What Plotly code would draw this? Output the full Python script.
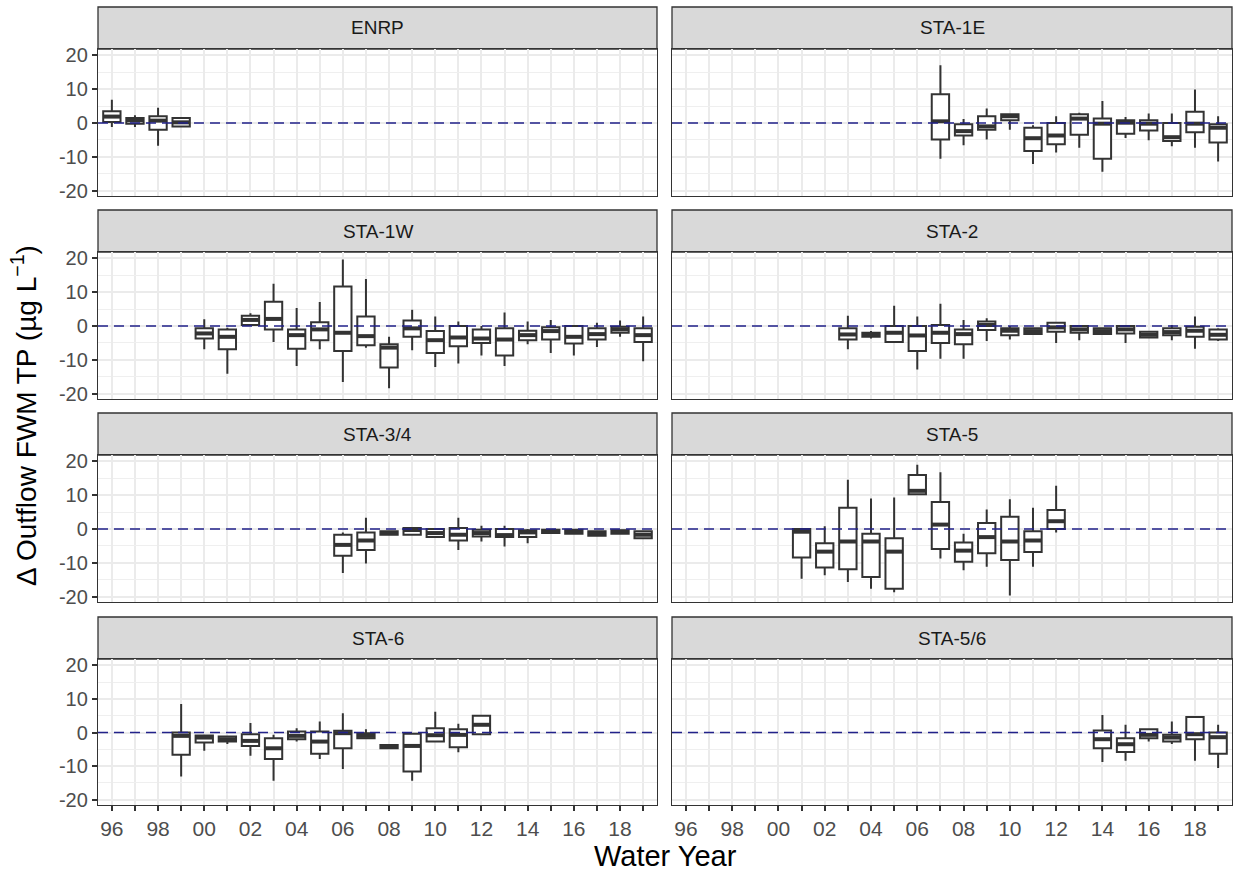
import plotly.graph_objects as go

# ---------------- data ----------------
year_labels = ["96","97","98","99","00","01","02","03","04","05","06","07",
               "08","09","10","11","12","13","14","15","16","17","18","19"]

stations = ["ENRP", "STA-1E", "STA-1W", "STA-2", "STA-3/4", "STA-5", "STA-6", "STA-5/6"]

enrp_years = ["96","97","98","99"]
enrp_low = [-1.2, -1.2, -6.7, -1.3]
enrp_q1 = [0.3, -0.2, -2.0, -1.0]
enrp_med = [1.9, 0.8, 0.7, 0.2]
enrp_q3 = [3.5, 1.5, 2.0, 1.5]
enrp_up = [6.9, 2.3, 4.5, 1.8]

sta1e_years = ["07","08","09","10","11","12","13","14","15","16","17","18","19"]
sta1e_low = [-10.6, -6.6, -4.9, -2.0, -12.1, -8.7, -7.3, -14.4, -4.4, -5.1, -6.9, -7.3, -11.4]
sta1e_q1 = [-4.9, -3.7, -2.0, 0.8, -8.3, -6.3, -3.5, -10.6, -3.2, -2.2, -5.3, -2.7, -5.8]
sta1e_med = [0.5, -2.4, -1.0, 2.0, -4.5, -3.7, 1.3, -0.2, 0.1, -0.2, -4.2, -0.2, -1.4]
sta1e_q3 = [8.5, -0.4, 2.0, 2.6, -1.4, 0.0, 2.6, 1.3, 0.8, 0.8, 0.0, 3.3, -0.4]
sta1e_up = [17.1, 1.2, 4.3, 2.6, -0.7, 2.0, 3.0, 6.5, 1.8, 2.8, 2.8, 9.9, 2.0]

sta1w_years = ["00","01","02","03","04","05","06","07","08","09",
               "10","11","12","13","14","15","16","17","18","19"]
sta1w_low = [-6.9, -14.1, 0.3, -4.7, -11.8, -6.9, -16.6, -6.4, -18.4, -7.2,
             -12.1, -11.1, -8.7, -11.8, -5.4, -8.0, -8.7, -6.2, -3.2, -10.4]
sta1w_q1 = [-3.7, -6.9, 0.3, -1.0, -6.7, -4.2, -7.4, -5.7, -12.3, -3.2,
            -8.0, -6.0, -5.0, -8.7, -4.2, -4.0, -5.2, -4.0, -2.0, -4.7]
sta1w_med = [-2.2, -3.2, 1.8, 2.1, -2.7, -1.0, -2.0, -3.0, -6.4, -0.7,
             -4.2, -3.4, -3.7, -4.0, -2.7, -1.5, -3.2, -2.4, -1.0, -2.7]
sta1w_q3 = [-0.7, -1.0, 3.0, 7.2, -1.0, 1.1, 11.7, 2.8, -5.4, 1.6,
            -1.5, 0.0, -1.0, -0.7, -1.4, -0.4, 0.0, -0.7, -0.2, -0.7]
sta1w_up = [2.0, -0.5, 3.8, 12.5, 5.3, 7.1, 19.7, 13.9, -3.2, 4.8,
            2.8, 1.3, 0.0, 4.0, 1.3, 1.8, 0.0, 1.0, 1.6, 2.8]

sta2_years = ["03","04","05","06","07","08","09","10","11","12","13","14","15","16","17","18","19"]
sta2_low = [-6.9, -3.7, -4.7, -12.9, -9.7, -9.7, -4.4, -4.0, -2.4, -5.0, -4.2, -2.4, -5.0, -3.4, -4.2, -6.7, -4.4]
sta2_q1 = [-4.0, -3.2, -4.7, -7.4, -5.0, -5.4, -1.2, -2.7, -2.4, -1.7, -2.0, -2.4, -2.2, -3.4, -2.7, -3.2, -4.0]
sta2_med = [-2.5, -2.6, -2.0, -2.8, -2.0, -2.4, 0.3, -1.4, -1.5, -0.4, -1.0, -1.5, -1.0, -2.6, -1.8, -1.4, -2.6]
sta2_q3 = [-0.7, -2.0, 0.0, 0.0, 0.3, -1.0, 1.3, -0.7, -0.7, 1.0, 0.0, -0.7, 0.0, -1.7, -0.7, -0.2, -1.0]
sta2_up = [3.0, -1.5, 6.0, 2.8, 6.6, 1.8, 2.3, 0.0, -0.7, 1.0, 0.3, -0.7, 0.3, -1.7, 0.3, 2.8, -0.7]

sta34_years = ["06","07","08","09","10","11","12","13","14","15","16","17","18","19"]
sta34_low = [-13.0, -10.2, -1.7, -1.7, -2.4, -6.2, -3.7, -5.2, -4.2, -1.4, -1.4, -2.0, -1.4, -2.7]
sta34_q1 = [-7.9, -6.2, -1.7, -1.7, -2.4, -3.4, -2.2, -2.4, -2.4, -1.2, -1.4, -2.0, -1.4, -2.7]
sta34_med = [-4.7, -3.4, -1.2, -0.3, -1.2, -1.7, -1.2, -1.8, -1.0, -0.7, -0.8, -1.4, -0.8, -1.7]
sta34_q3 = [-1.7, -1.0, -0.7, 0.3, 0.0, 0.3, -0.2, 0.0, -0.4, -0.2, -0.2, -0.7, -0.4, -0.7]
sta34_up = [-1.0, 3.3, -0.7, 0.6, 0.3, 3.3, 1.0, 1.0, 0.0, 0.0, -0.2, -0.7, -0.2, -0.7]

sta5_years = ["01","02","03","04","05","06","07","08","09","10","11","12"]
sta5_low = [-14.7, -13.7, -15.7, -17.7, -18.7, 10.3, -8.7, -12.2, -11.2, -19.7, -11.2, -1.0]
sta5_q1 = [-8.4, -11.4, -11.9, -14.2, -17.7, 10.3, -5.9, -9.7, -7.2, -9.2, -6.8, 0.0]
sta5_med = [-0.8, -6.7, -3.7, -3.7, -6.7, 11.3, 1.3, -6.4, -2.4, -3.7, -3.4, 2.3]
sta5_q3 = [0.0, -4.2, 6.3, -1.4, -2.7, 16.0, 8.0, -4.0, 1.8, 3.6, -0.7, 5.6]
sta5_up = [0.0, 0.8, 14.6, 9.0, 9.3, 19.0, 16.8, -1.4, 5.8, 8.8, 6.3, 12.8]

sta6_years = ["99","00","01","02","03","04","05","06","07","08","09","10","11","12"]
sta6_low = [-13.1, -5.4, -3.4, -6.9, -14.4, -2.7, -7.9, -10.9, -1.7, -4.7, -14.4, -2.7, -5.9, -0.7]
sta6_q1 = [-6.6, -3.0, -2.7, -4.0, -7.9, -2.0, -6.3, -4.7, -1.7, -4.7, -11.6, -2.7, -4.4, -0.5]
sta6_med = [-1.0, -1.5, -2.0, -2.5, -4.7, -1.0, -2.7, -0.2, -1.0, -4.2, -4.0, -0.8, -0.7, 2.3]
sta6_q3 = [0.0, -0.9, -1.2, -0.5, -1.7, 0.3, 0.3, 0.5, -0.2, -3.7, -0.4, 1.3, 1.0, 5.0]
sta6_up = [8.5, -0.7, -1.0, 2.8, -0.7, 1.3, 3.3, 5.7, 1.0, -3.7, -0.2, 6.2, 2.6, 5.2]

sta56_years = ["14","15","16","17","18","19"]
sta56_low = [-8.8, -8.4, -2.7, -3.4, -8.4, -10.6]
sta56_q1 = [-4.7, -5.8, -1.7, -2.7, -2.0, -6.3]
sta56_med = [-2.0, -3.5, -0.7, -1.5, -0.5, -1.4]
sta56_q3 = [0.6, -1.7, 1.0, -0.7, 4.6, 0.0]
sta56_up = [5.2, 2.3, 1.0, 3.3, 4.6, 2.3]

y_ticks = [-20, -10, 0, 10, 20]
y_minor = [-15, -5, 5, 15]

panel_data = [
    (enrp_years, enrp_low, enrp_q1, enrp_med, enrp_q3, enrp_up),
    (sta1e_years, sta1e_low, sta1e_q1, sta1e_med, sta1e_q3, sta1e_up),
    (sta1w_years, sta1w_low, sta1w_q1, sta1w_med, sta1w_q3, sta1w_up),
    (sta2_years, sta2_low, sta2_q1, sta2_med, sta2_q3, sta2_up),
    (sta34_years, sta34_low, sta34_q1, sta34_med, sta34_q3, sta34_up),
    (sta5_years, sta5_low, sta5_q1, sta5_med, sta5_q3, sta5_up),
    (sta6_years, sta6_low, sta6_q1, sta6_med, sta6_q3, sta6_up),
    (sta56_years, sta56_low, sta56_q1, sta56_med, sta56_q3, sta56_up),
]

# ---------------- layout geometry ----------------
W, H = 1233, 873
ML, MR, MT, MB = 98, 1, 7, 68
PW = W - ML - MR
PH = H - MT - MB

def px_x(x):
    return (x - ML) / PW

def px_y(y):
    return (H - MB - y) / PH

col_px = [(98, 657), (672, 1232)]
row_px = [(49, 196), (252, 399), (455, 602), (659, 805)]
strip_h = 42

FONT = "Arial, Liberation Sans, Helvetica, sans-serif"
BOX_W = 0.75
GRID = "#EBEBEB"
even_idx = [i for i in range(len(year_labels)) if i % 2 == 0]
odd_idx = [i for i in range(len(year_labels)) if i % 2 == 1]

fig = go.Figure()
shapes = []
annotations = []
layout_axes = {}

for k, (name, pdata) in enumerate(zip(stations, panel_data)):
    r, c = divmod(k, 2)
    n = k + 1
    xa = "x" if n == 1 else f"x{n}"
    ya = "y" if n == 1 else f"y{n}"
    yrs, lo, q1, med, q3, up = pdata
    xs = [year_labels.index(y) for y in yrs]

    fig.add_trace(go.Box(
        x=xs, q1=q1, median=med, q3=q3, lowerfence=lo, upperfence=up,
        width=BOX_W, fillcolor="white", line=dict(color="#333333", width=2),
        whiskerwidth=0, boxpoints=False, showlegend=False, hoverinfo="skip",
        xaxis=xa, yaxis=ya))
    # thicker median lines (ggplot style)
    mx, my = [], []
    for xi, m in zip(xs, med):
        mx += [xi - BOX_W / 2, xi + BOX_W / 2, None]
        my += [m, m, None]
    fig.add_trace(go.Scatter(x=mx, y=my, mode="lines",
                             line=dict(color="#333333", width=4),
                             showlegend=False, hoverinfo="skip",
                             xaxis=xa, yaxis=ya))

    x0p, x1p = col_px[c]
    y0p, y1p = row_px[r]
    xd = [px_x(x0p), px_x(x1p)]
    yd = [px_y(y1p), px_y(y0p)]
    bottom = (r == 3)
    left = (c == 0)
    axkey = "" if n == 1 else str(n)
    layout_axes[f"xaxis{axkey}"] = dict(
        domain=xd, anchor=ya, range=[-0.6, 23.6],
        tickmode="array", tickvals=even_idx,
        ticktext=[year_labels[i] for i in even_idx], showticklabels=bottom,
        ticks="outside" if bottom else "", ticklen=5, tickwidth=1.5, tickcolor="#333333",
        tickfont=dict(family=FONT, size=21, color="#4D4D4D"),
        showgrid=True, gridcolor=GRID, gridwidth=1.8,
        minor=dict(tickmode="array", tickvals=odd_idx, showgrid=True, gridcolor=GRID,
                   gridwidth=1.8, ticks="outside" if bottom else "", ticklen=5,
                   tickwidth=1.5, tickcolor="#333333"),
        zeroline=False, showline=True, mirror=True, linecolor="#333333", linewidth=1.3)
    layout_axes[f"yaxis{axkey}"] = dict(
        domain=yd, anchor=xa, range=[-21.6, 21.9],
        tickmode="array", tickvals=y_ticks, ticktext=[str(v) for v in y_ticks],
        showticklabels=left, ticks="outside" if left else "", ticklen=5, tickwidth=1.5,
        tickcolor="#333333", tickfont=dict(family=FONT, size=20, color="#4D4D4D"),
        showgrid=True, gridcolor=GRID, gridwidth=1.8,
        minor=dict(tickmode="array", tickvals=y_minor, showgrid=True, gridcolor="#EFEFEF",
                   gridwidth=1.1, ticks=""),
        zeroline=False, showline=True, mirror=True, linecolor="#333333", linewidth=1.3)

    # zero reference line
    shapes.append(dict(type="line", xref=f"{xa} domain", yref=ya, x0=0, x1=1, y0=0, y1=0,
                       line=dict(color="#22228A", width=1.5, dash="10px,6px"), layer="above"))
    # strip
    shapes.append(dict(type="rect", xref="paper", yref="paper",
                       x0=xd[0], x1=xd[1], y0=px_y(y0p), y1=px_y(y0p - strip_h),
                       fillcolor="#D9D9D9", line=dict(color="#333333", width=1.3), layer="below"))
    annotations.append(dict(text=name, xref="paper", yref="paper",
                            x=(xd[0] + xd[1]) / 2, y=px_y(y0p - strip_h / 2),
                            showarrow=False, xanchor="center", yanchor="middle",
                            font=dict(family=FONT, size=19, color="#1A1A1A")))

annotations.append(dict(text="Water Year", xref="paper", yref="paper",
                        x=0.5, y=px_y(856), showarrow=False,
                        xanchor="center", yanchor="middle",
                        font=dict(family=FONT, size=29, color="black")))
annotations.append(dict(text="Δ Outflow FWM TP (µg L<sup>−1</sup>)", xref="paper", yref="paper",
                        x=px_x(24), y=px_y(416), showarrow=False, textangle=-90,
                        xanchor="center", yanchor="middle",
                        font=dict(family=FONT, size=28, color="black")))

fig.update_layout(
    width=W, height=H,
    margin=dict(l=ML, r=MR, t=MT, b=MB),
    paper_bgcolor="white", plot_bgcolor="white",
    shapes=shapes, annotations=annotations,
    showlegend=False,
    **layout_axes)

fig.write_html("out.html")
